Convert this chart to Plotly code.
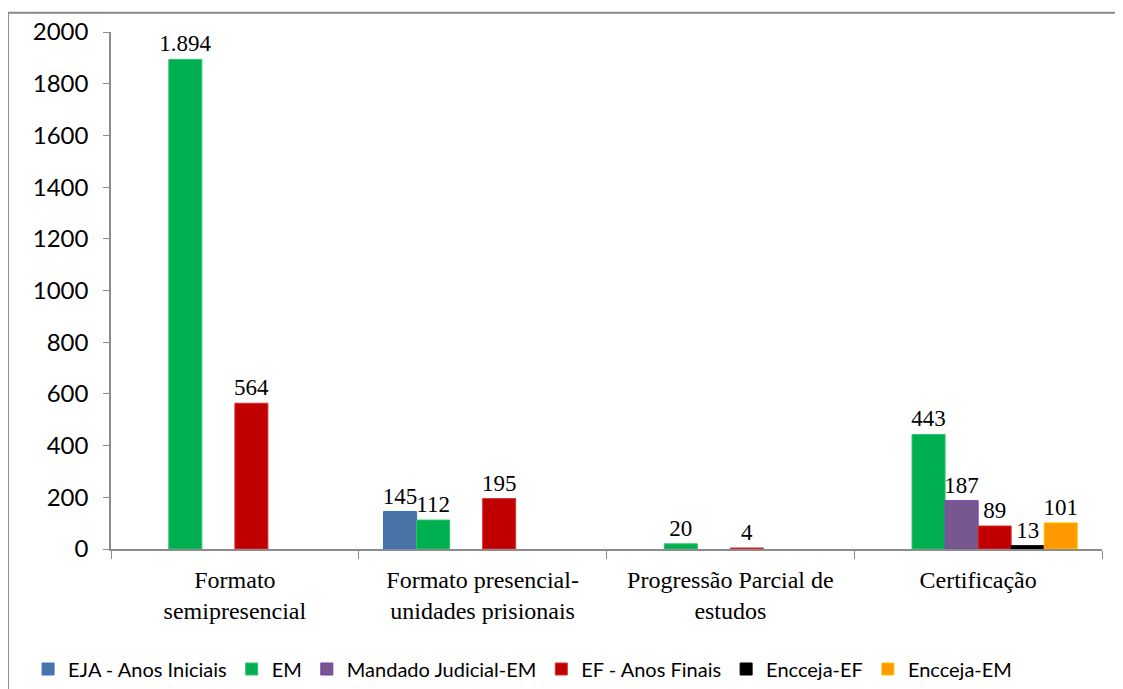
# EJA enrolment by offer format - grouped bars
import plotly.graph_objects as go

categorias = ["Formato<br>semipresencial",
              "Formato presencial-<br>unidades prisionais",
              "Progressão Parcial de<br>estudos",
              "Certificação"]

eja_anos_iniciais = [None, 145, None, None]
em = [1894, 112, 20, 443]
mandado_judicial_em = [None, None, None, 187]
ef_anos_finais = [564, 195, 4, 89]
encceja_ef = [None, None, None, 13]
encceja_em = [None, None, None, 101]

series = [
    ("EJA - Anos Iniciais", eja_anos_iniciais, "#4A73A8", "#2E78CC"),
    ("EM", em, "#00B050", "#2BC46A"),
    ("Mandado Judicial-EM", mandado_judicial_em, "#76578F", "#7A3AB0"),
    ("EF - Anos Finais", ef_anos_finais, "#C00000", "#D83030"),
    ("Encceja-EF", encceja_ef, "#000000", "#000000"),
    ("Encceja-EM", encceja_em, "#FF9900", "#FFC000"),
]

fig = go.Figure()
for nome, valores, cor, borda in series:
    fig.add_trace(go.Bar(
        x=categorias, y=valores, name=nome,
        marker=dict(color=cor, line=dict(color=borda, width=1)),
        texttemplate="%{y:,}", textposition="outside",
        constraintext="none", cliponaxis=False,
        textfont=dict(family="Liberation Serif", size=23, color="black"),
    ))

axis_line = "#8C8C8C"
# page body has an 8px margin, so the figure is a bit smaller than the window
fig.update_layout(
    barmode="group", bargap=0.2, bargroupgap=0,
    separators=",.",
    width=1115, height=681,
    margin=dict(l=103, r=21, t=24, b=140, autoexpand=False),
    plot_bgcolor="white", paper_bgcolor="white",
    showlegend=True,
    legend=dict(orientation="h", xref="container", yref="container",
                x=0.018, xanchor="left", y=0.058, yanchor="top",
                font=dict(family="Lato", size=20, color="black"),
                traceorder="normal", itemwidth=30),
    xaxis=dict(showline=True, linecolor=axis_line, linewidth=1.5, automargin=False,
               ticks="outside", tickson="boundaries", ticklen=8, tickcolor=axis_line,
               ticklabelstandoff=8,
               tickfont=dict(family="Liberation Serif", size=24, color="black"),
               showgrid=False),
    yaxis=dict(range=[0, 2000], dtick=200, showline=True, linecolor=axis_line, linewidth=1.5,
               automargin=False,
               ticks="outside", ticklen=6, tickcolor=axis_line, ticklabelstandoff=10,
               tickfont=dict(family="Lato", size=24, color="black"),
               showgrid=False, zeroline=False, tickformat="d"),
    shapes=[dict(type="rect", xref="paper", yref="paper",
                 x0=-0.104, x1=1.05, y0=-0.35, y1=1.037,
                 line=dict(color="#888888", width=2))],
)

fig.write_html("out.html")
